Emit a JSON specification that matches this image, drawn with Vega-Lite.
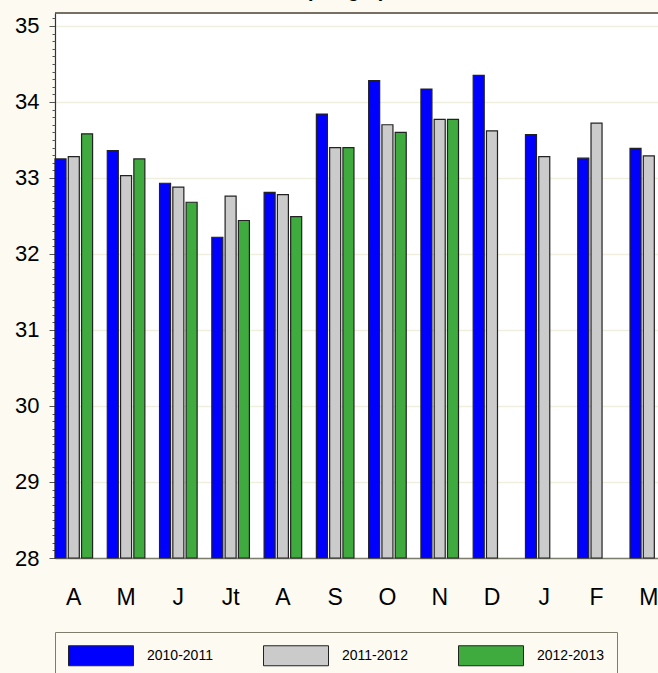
{
  "$schema": "https://vega.github.io/schema/vega-lite/v6.json",
  "width": 603,
  "height": 545,
  "autosize": {"type": "none"},
  "padding": {"left": 55, "top": 13, "right": 0, "bottom": 115},
  "background": "#fdfaf2",
  "view": {"fill": "white", "stroke": null},
  "title": {"text": "(Weight)", "font": "Liberation Sans", "fontSize": 20, "fontWeight": "bold", "color": "black", "anchor": "middle", "dx": -11, "dy": 5, "offset": 0, "baseline": "alphabetic"},
  "data": {"values": [
    {"month": "Apr", "series": "2010-2011", "value": 33.25},
    {"month": "Apr", "series": "2011-2012", "value": 33.28},
    {"month": "Apr", "series": "2012-2013", "value": 33.58},
    {"month": "May", "series": "2010-2011", "value": 33.36},
    {"month": "May", "series": "2011-2012", "value": 33.03},
    {"month": "May", "series": "2012-2013", "value": 33.25},
    {"month": "Jun", "series": "2010-2011", "value": 32.93},
    {"month": "Jun", "series": "2011-2012", "value": 32.88},
    {"month": "Jun", "series": "2012-2013", "value": 32.68},
    {"month": "Jul", "series": "2010-2011", "value": 32.22},
    {"month": "Jul", "series": "2011-2012", "value": 32.76},
    {"month": "Jul", "series": "2012-2013", "value": 32.44},
    {"month": "Aug", "series": "2010-2011", "value": 32.81},
    {"month": "Aug", "series": "2011-2012", "value": 32.78},
    {"month": "Aug", "series": "2012-2013", "value": 32.49},
    {"month": "Sep", "series": "2010-2011", "value": 33.84},
    {"month": "Sep", "series": "2011-2012", "value": 33.40},
    {"month": "Sep", "series": "2012-2013", "value": 33.40},
    {"month": "Oct", "series": "2010-2011", "value": 34.28},
    {"month": "Oct", "series": "2011-2012", "value": 33.70},
    {"month": "Oct", "series": "2012-2013", "value": 33.60},
    {"month": "Nov", "series": "2010-2011", "value": 34.17},
    {"month": "Nov", "series": "2011-2012", "value": 33.77},
    {"month": "Nov", "series": "2012-2013", "value": 33.77},
    {"month": "Dec", "series": "2010-2011", "value": 34.35},
    {"month": "Dec", "series": "2011-2012", "value": 33.62},
    {"month": "Jan", "series": "2010-2011", "value": 33.57},
    {"month": "Jan", "series": "2011-2012", "value": 33.28},
    {"month": "Feb", "series": "2010-2011", "value": 33.26},
    {"month": "Feb", "series": "2011-2012", "value": 33.72},
    {"month": "Mar", "series": "2010-2011", "value": 33.39},
    {"month": "Mar", "series": "2011-2012", "value": 33.29}
  ]},
  "layer": [
    {
      "mark": {"type": "bar", "stroke": "#222222", "strokeWidth": 1.2},
      "encoding": {
        "x": {
          "field": "month", "type": "nominal",
          "sort": ["Apr", "May", "Jun", "Jul", "Aug", "Sep", "Oct", "Nov", "Dec", "Jan", "Feb", "Mar"],
          "scale": {"range": [0, 612.6], "paddingInner": 0.281, "paddingOuter": 0},
          "axis": {
            "labelExpr": "['A','M','J','Jt','A','S','O','N','D','J','F','M'][indexof(['Apr','May','Jun','Jul','Aug','Sep','Oct','Nov','Dec','Jan','Feb','Mar'], datum.value)]",
            "labelAngle": 0, "labelFont": "Liberation Sans", "labelFontSize": 23, "labelColor": "black",
            "labelPadding": 28, "ticks": false, "domainColor": "#7d7d6e", "domainWidth": 1.5,
            "title": null, "grid": false
          }
        },
        "xOffset": {
          "field": "series", "type": "nominal",
          "sort": ["2010-2011", "2011-2012", "2012-2013"],
          "scale": {"paddingInner": 0.17, "paddingOuter": 0}
        },
        "y": {
          "field": "value", "type": "quantitative",
          "scale": {"domain": [28, 35.17], "nice": false, "zero": false},
          "axis": {
            "orient": "left",
            "values": [28, 29, 30, 31, 32, 33, 34, 35],
            "format": "d",
            "labelOverlap": false,
            "labelFont": "Liberation Sans", "labelFontSize": 22, "labelColor": "black", "labelPadding": 10,
            "tickSize": 6, "tickColor": "#555555", "tickWidth": 1,
            "grid": true, "gridColor": "#efeedf", "gridWidth": 1.5,
            "domainColor": "#333333", "domainWidth": 1.2,
            "title": null
          }
        },
        "y2": {"datum": 28},
        "color": {
          "field": "series", "type": "nominal",
          "scale": {"domain": ["2010-2011", "2011-2012", "2012-2013"], "range": ["#0000ff", "#cbcbcb", "#3fab3f"]},
          "legend": {
            "orient": "none", "legendX": 0, "legendY": 619, "direction": "horizontal", "columns": 3,
            "title": null, "symbolType": "M-1,-1H5.5V1H-1Z", "symbolSize": 400,
            "symbolStrokeColor": "#222222", "symbolStrokeWidth": 1, "symbolOpacity": 1,
            "labelFont": "Liberation Sans", "labelFontSize": 14, "labelColor": "black",
            "labelOffset": 58, "columnPadding": 48, "padding": 13,
            "strokeColor": "#7d7d6e", "fillColor": "#fdfaf2", "cornerRadius": 0
          }
        }
      }
    },
    {
      "data": {"values": [{"top": 35.17}]},
      "mark": {"type": "rule", "color": "#4a3f35", "strokeWidth": 1.5},
      "encoding": {
        "y": {
          "field": "top", "type": "quantitative",
          "axis": {
            "orient": "left",
            "values": [28.1, 28.2, 28.3, 28.4, 28.5, 28.6, 28.7, 28.8, 28.9, 29.1, 29.2, 29.3, 29.4, 29.5, 29.6, 29.7, 29.8, 29.9, 30.1, 30.2, 30.3, 30.4, 30.5, 30.6, 30.7, 30.8, 30.9, 31.1, 31.2, 31.3, 31.4, 31.5, 31.6, 31.7, 31.8, 31.9, 32.1, 32.2, 32.3, 32.4, 32.5, 32.6, 32.7, 32.8, 32.9, 33.1, 33.2, 33.3, 33.4, 33.5, 33.6, 33.7, 33.8, 33.9, 34.1, 34.2, 34.3, 34.4, 34.5, 34.6, 34.7, 34.8, 34.9, 35.1],
            "labels": false, "grid": false, "domain": false,
            "tickSize": 3, "tickColor": "#555555", "tickWidth": 1,
            "title": null
          }
        }
      }
    }
  ],
  "resolve": {"axis": {"y": "independent"}}
}
